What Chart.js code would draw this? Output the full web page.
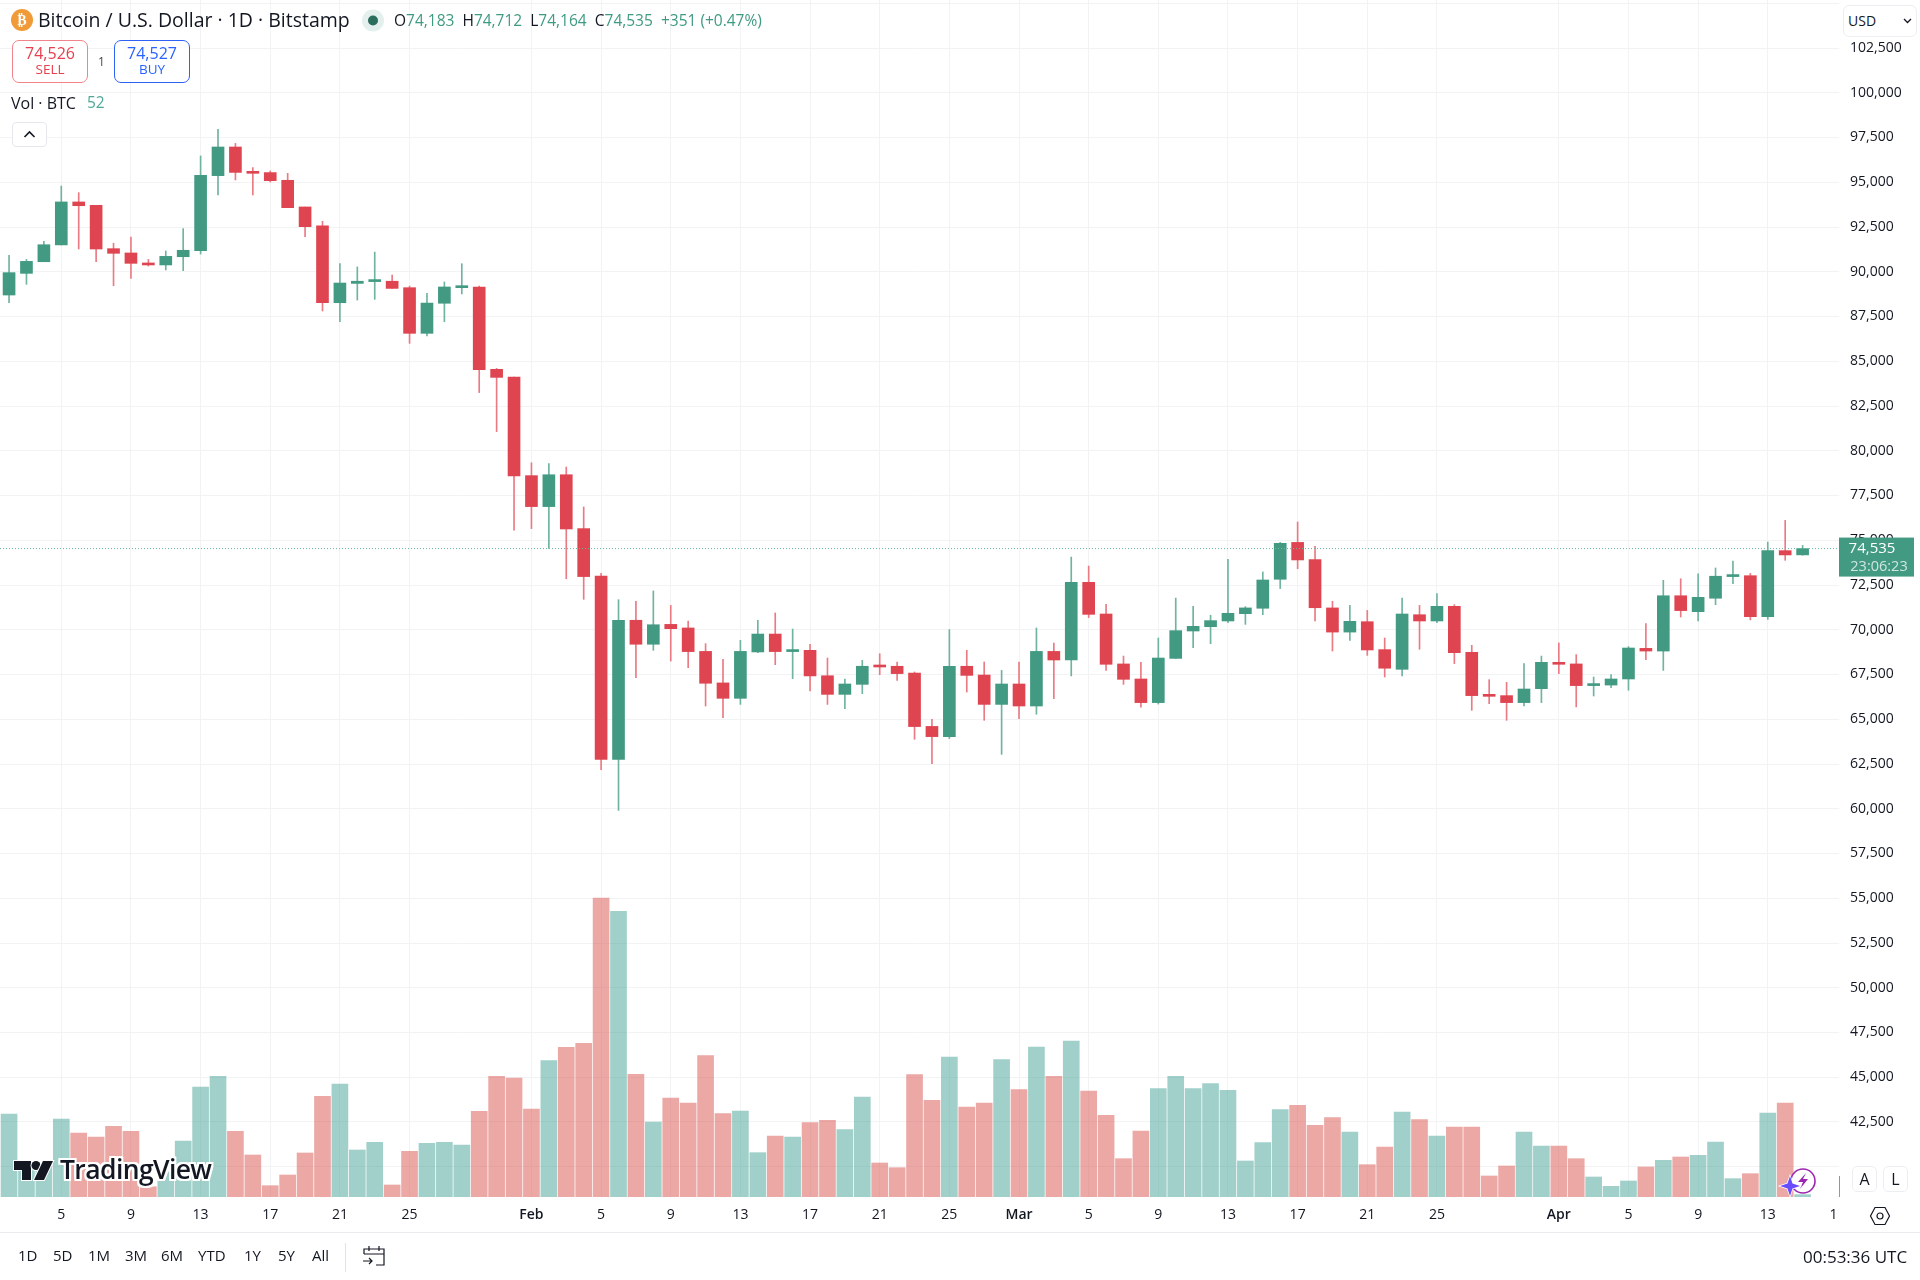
<!DOCTYPE html>
<html>
<head>
<meta charset="utf-8">
<title>BTCUSD</title>
<script src="https://cdn.jsdelivr.net/npm/chart.js@4"></script>
<style>
  html, body { margin: 0; padding: 0; background: #fff; }
  body { width: 1920px; height: 1280px; position: relative; overflow: hidden;
         font-family: "Open Sans", sans-serif; color: #131722; }
  #chart { position: absolute; left: 0; top: 0; }
  .t { position: absolute; white-space: nowrap; line-height: 1; }
  .box { position: absolute; box-sizing: border-box; background: #fff; }
  .up { color: #3f9a82; }
  svg { position: absolute; overflow: visible; }
</style>
</head>
<body>
<canvas id="chart" width="1920" height="1280"></canvas>

<!-- symbol header -->
<svg style="left:11px;top:9px" width="22" height="22"><circle cx="11" cy="11" r="11" fill="#f09a38"/><text x="11" y="16" font-size="14" font-weight="700" fill="#fff" text-anchor="middle" font-family="DejaVu Sans">₿</text></svg>
<div class="t" style="left:38px;top:10px;font-size:19.5px">Bitcoin / U.S. Dollar · 1D · Bitstamp</div>
<svg style="left:362px;top:9px" width="22" height="23"><circle cx="11" cy="11.5" r="11" fill="#e3f0ed"/><circle cx="11" cy="11.5" r="5" fill="#2b6e5d"/></svg>
<div class="t" style="left:394px;top:13px;font-size:15.5px">O<span class="up">74,183</span>&nbsp; H<span class="up">74,712</span>&nbsp; L<span class="up">74,164</span>&nbsp; C<span class="up">74,535</span>&nbsp; <span class="up">+351 (+0.47%)</span></div>

<div class="box" style="left:12px;top:40px;width:76px;height:43px;border:1px solid #f0838c;border-radius:7px"></div>
<div class="t" style="left:12px;width:76px;text-align:center;top:45px;font-size:16px;font-weight:500;color:#e5404e">74,526</div>
<div class="t" style="left:12px;width:76px;text-align:center;top:63px;font-size:13.5px;color:#e5404e">SELL</div>
<div class="t" style="left:98px;top:56px;font-size:12px;color:#434651">1</div>
<div class="box" style="left:114px;top:40px;width:76px;height:43px;border:1px solid #2e62f5;border-radius:7px"></div>
<div class="t" style="left:114px;width:76px;text-align:center;top:45px;font-size:16px;font-weight:500;color:#2962ff">74,527</div>
<div class="t" style="left:114px;width:76px;text-align:center;top:63px;font-size:13.5px;color:#2962ff">BUY</div>

<div class="t" style="left:11px;top:95px;font-size:16px">Vol · BTC</div>
<div class="t" style="left:87px;top:95px;font-size:15.5px;color:#4fa896">52</div>
<div class="box" style="left:12px;top:122px;width:35px;height:25px;border:1px solid #e6e8ee;border-radius:4px"></div>
<svg style="left:12px;top:122px" width="35" height="25"><path d="M12.5 15 L17.5 10 L22.5 15" fill="none" stroke="#131722" stroke-width="1.6"/></svg>

<!-- currency selector -->
<div class="box" style="left:1843px;top:5px;width:74px;height:32px;border:1px solid #eceef2;border-radius:6px"></div>
<div class="t" style="left:1848px;top:14px;font-size:14px">USD</div>
<svg style="left:1903px;top:17px" width="10" height="8"><path d="M1 2 L4.5 5.5 L8 2" fill="none" stroke="#131722" stroke-width="1.3"/></svg>

<!-- logo over the volume pane -->
<svg style="left:14px;top:1161px" width="40" height="20" viewBox="0 0 40 20"><g fill="#131722" stroke="#fff" stroke-width="2" paint-order="stroke"><path d="M0 0H17V19H8V9H0Z"/><circle cx="22" cy="4.5" r="4.5"/><path d="M29 0H39L30 19H20Z"/></g></svg>
<div class="t" style="left:60px;top:1156px;font-size:26.5px;font-weight:600;letter-spacing:-0.6px;color:#131722;text-shadow:-2px 0 #fff,2px 0 #fff,0 -2px #fff,0 2px #fff,-2px -2px #fff,2px 2px #fff,-2px 2px #fff,2px -2px #fff">TradingView</div>

<!-- corner of the time axis -->
<div class="box" style="left:1838px;top:1197px;width:82px;height:34px"></div>
<div class="box" style="left:1839px;top:1176px;width:1px;height:21px;background:#5fb09c"></div>
<div class="box" style="left:0;top:1232px;width:1920px;height:1px;background:#e9ebef"></div>
<div class="box" style="left:1852px;top:1166px;width:25px;height:26px;border:1px solid #eceef2;border-radius:5px"></div>
<div class="t" style="left:1852px;width:25px;text-align:center;top:1171px;font-size:16px">A</div>
<div class="box" style="left:1883px;top:1166px;width:25px;height:26px;border:1px solid #eceef2;border-radius:5px"></div>
<div class="t" style="left:1883px;width:25px;text-align:center;top:1171px;font-size:16px">L</div>
<svg style="left:1870px;top:1206px" width="20" height="20"><path d="M5 1.5H15L19.5 10L15 18.5H5L0.5 10Z" fill="none" stroke="#131722" stroke-width="1.2"/><circle cx="10" cy="10" r="3" fill="none" stroke="#131722" stroke-width="1.2"/></svg>

<!-- assistant badge -->
<svg style="left:1782px;top:1165px" width="40" height="36"><circle cx="21" cy="16" r="12" fill="#fff" stroke="#9c27b0" stroke-width="1.6"/><path d="M24 8 L16 17 H21 L18 24 L26 14 H21 Z" fill="#9c27b0"/><path d="M8 11 L10.5 18.5 L18 21 L10.5 23.5 L8 31 L5.5 23.5 L-2 21 L5.5 18.5 Z" fill="#6a4cff" stroke="#fff" stroke-width="1.5" paint-order="stroke"/></svg>

<!-- bottom toolbar -->
<div class="t" style="left:18px;top:1248px;font-size:15px">1D</div>
<div class="t" style="left:53px;top:1248px;font-size:15px">5D</div>
<div class="t" style="left:88px;top:1248px;font-size:15px">1M</div>
<div class="t" style="left:125px;top:1248px;font-size:15px">3M</div>
<div class="t" style="left:161px;top:1248px;font-size:15px">6M</div>
<div class="t" style="left:198px;top:1248px;font-size:15px">YTD</div>
<div class="t" style="left:244px;top:1248px;font-size:15px">1Y</div>
<div class="t" style="left:278px;top:1248px;font-size:15px">5Y</div>
<div class="t" style="left:312px;top:1248px;font-size:15px">All</div>
<div class="box" style="left:345px;top:1243px;width:1px;height:29px;background:#e0e3eb"></div>
<svg style="left:362px;top:1245px" width="24" height="22"><path d="M2 9V4H22V20H14M2 9H22M7 1V6M17 1V6M1 16H10M7 13L10 16L7 19" fill="none" stroke="#131722" stroke-width="1.2"/></svg>
<div class="t" style="left:1803px;top:1248px;font-size:17px">00:53:36 UTC</div>

<script>
// Daily BTC/USD, 2 Jan to 15 Apr
const opens = [
  88700, 89910, 90560, 91500, 93900, 93710, 91290, 91050, 90490, 90380, 90840, 91180, 95370,
  96970, 95570, 95540, 95110, 93620, 92560, 88270, 89350, 89450, 89470, 89110, 86560, 88240,
  89110, 89150, 84550, 84120, 78610, 76880, 78660, 75650, 73000, 62760, 70530, 69190, 70300,
  70100, 68790, 67030, 66170, 68760, 69760, 68780, 68850, 67430, 66390, 66950, 67970, 67960,
  67580, 64600, 64030, 67960, 67470, 65830, 66970, 65740, 68790, 68310, 72650, 70880, 68090,
  67250, 65930, 68400, 69930, 70170, 70490, 70900, 71200, 72820, 74880, 73920, 71220, 69870,
  70450, 68890, 67790, 70840, 70490, 71310, 68740, 66340, 66320, 65930, 66710, 68180, 68090,
  66880, 66910, 67250, 68960, 68810, 71900, 71010, 71760, 72970, 73020, 70730, 74420, 74183
];
const highs = [
  90920, 90690, 91700, 94790, 94420, 93710, 91590, 91940, 90690, 91160, 92410, 96470, 97960,
  97170, 95820, 95630, 95500, 93620, 92820, 90450, 90270, 91100, 89820, 89200, 88790, 89430,
  90450, 89200, 84600, 84120, 79330, 79280, 79090, 76860, 73150, 71680, 71590, 72170, 71360,
  70490, 69220, 68350, 69410, 70530, 70940, 70040, 69190, 68420, 67250, 68290, 68660, 68200,
  67640, 65000, 70010, 68850, 68200, 67730, 68200, 70100, 69260, 74060, 73560, 71420, 68530,
  68180, 69540, 71770, 71310, 70810, 73930, 71290, 73230, 74880, 76020, 74660, 71590, 71360,
  71080, 69540, 71770, 71360, 72020, 71400, 69130, 67210, 67060, 68110, 68530, 69260, 68610,
  67360, 67490, 69060, 70340, 72760, 72850, 73130, 73450, 73840, 73150, 74900, 76110, 74712
];
const lows = [
  88270, 89300, 90560, 91500, 91270, 90560, 89220, 89630, 90320, 90100, 90060, 90990, 94290,
  95130, 94290, 95010, 93580, 91960, 87810, 87210, 88420, 88460, 89070, 86000, 86410, 87210,
  88760, 83250, 81070, 75570, 75650, 74550, 72850, 71700, 62180, 59910, 67320, 68850, 68250,
  67880, 65740, 65090, 65830, 68720, 68050, 67270, 66580, 65830, 65590, 66430, 67490, 67170,
  63880, 62520, 63920, 66520, 64940, 63040, 65030, 65280, 66150, 67420, 70680, 67730, 66950,
  65670, 65850, 68390, 69000, 69220, 70400, 70300, 70840, 72300, 73410, 70490, 68810, 69410,
  68570, 67360, 67420, 68910, 70400, 68110, 65500, 65870, 64940, 65740, 65930, 67550, 65690,
  66300, 66770, 66620, 68330, 67730, 70710, 70490, 71400, 72580, 70550, 70580, 73880, 74164
];
const closes = [
  89950, 90580, 91510, 93900, 93690, 91270, 91030, 90470, 90380, 90860, 91200, 95390, 96970,
  95550, 95500, 95090, 93580, 92520, 88270, 89370, 89470, 89480, 89070, 86560, 88250, 89150,
  89150, 84530, 84100, 78590, 76880, 78660, 75630, 72970, 62760, 70530, 69190, 70280, 70060,
  68780, 67010, 66170, 68790, 69760, 68780, 68850, 67420, 66390, 66970, 67960, 67920, 67550,
  64590, 64030, 67960, 67450, 65830, 66970, 65740, 68790, 68310, 72650, 70860, 68070, 67230,
  65930, 68420, 69950, 70190, 70510, 70920, 71220, 72780, 74830, 73900, 71230, 69870, 70470,
  68870, 67850, 70880, 70490, 71310, 68720, 66320, 66280, 65930, 66690, 68180, 68070, 66880,
  66930, 67250, 68980, 68810, 71900, 71070, 71810, 72990, 73080, 70730, 74420, 74180, 74535
];
const volumes = [
  1826, 660, 704, 1716, 1408, 1320, 1555, 1445, 227, 550, 1232, 2420, 2655,
  1445, 924, 249, 484, 968, 2215, 2486, 1034, 1203, 264, 1005, 1181, 1203,
  1144, 1885, 2655, 2618, 1936, 2999, 3293, 3381, 6578, 6285, 2699, 1650, 2178,
  2068, 3109, 1833, 1892, 975, 1342, 1320, 1635, 1687, 1481, 2200, 748, 645,
  2691, 2127, 3080, 1980, 2068, 3021, 2361, 3300, 2655, 3432, 2332, 1797, 843,
  1452, 2383, 2655, 2383, 2493, 2347, 792, 1195, 1921, 2017, 1577, 1745, 1430,
  711, 1100, 1870, 1701, 1342, 1540, 1540, 462, 682, 1430, 1122, 1122, 843,
  440, 235, 352, 660, 807, 880, 917, 1210, 403, 513, 1848, 2068, 52
];

// x axis labels and the bar index they sit on
const dateTicks = [3, 7, 11, 15, 19, 23, 30, 34, 38, 42, 46, 50, 54, 58, 62, 66, 70, 74, 78, 82, 89, 93, 97, 101, 105];
const dateLabels = ["5", "9", "13", "17", "21", "25", "Feb", "5", "9", "13", "17", "21", "25", "Mar", "5", "9", "13", "17", "21", "25", "Apr", "5", "9", "13", "17"];
const monthLabels = ["Feb", "Mar", "Apr"];

const priceTicks = [
  42500, 45000, 47500, 50000, 52500, 55000, 57500, 60000, 62500, 65000, 67500, 70000, 72500,
  75000, 77500, 80000, 82500, 85000, 87500, 90000, 92500, 95000, 97500, 100000, 102500
];
const lastPrice = closes[closes.length - 1];
const countdown = "23:06:23";

const UP = "#429a82", DOWN = "#df4550";
const UP_WICK = "#6fb3a0", DOWN_WICK = "#ea7a83";
const VOL_UP = "rgba(66,161,147,0.5)", VOL_DOWN = "rgba(215,81,76,0.5)";
const GRID = "#f2f3f5";
const FONT = '"Open Sans", sans-serif';

const isUp = closes.map((c, i) => c >= opens[i]);

// tag on the price axis, drawn last so it covers the 75,000 label
const priceTag = {
  id: "priceTag",
  afterDraw(chart) {
    const { ctx, chartArea } = chart;
    const y = chart.scales.price.getPixelForValue(lastPrice);
    const left = chartArea.right;
    ctx.save();
    ctx.fillStyle = UP;
    ctx.fillRect(left, y - 11, 75, 39);
    ctx.textAlign = "center";
    ctx.textBaseline = "middle";
    ctx.font = "500 15px " + FONT;
    ctx.fillStyle = "#fff";
    ctx.fillText(lastPrice.toLocaleString("en-US"), left + 33, y);
    ctx.font = "14.5px " + FONT;
    ctx.fillStyle = "#cfe6df";
    ctx.fillText(countdown, left + 40, y + 18);
    ctx.restore();
  }
};

new Chart(document.getElementById("chart"), {
  type: "bar",
  data: {
    datasets: [
      {
        label: "Last price",
        type: "line",
        data: [{ x: -0.52, y: lastPrice }, { x: 105.09, y: lastPrice }],
        yAxisID: "price",
        borderColor: "#6db8a4",
        borderWidth: 1,
        borderDash: [1, 2],
        pointRadius: 0,
        order: 1
      },
      {
        label: "Body",
        data: opens.map((o, i) => ({ x: i, y: [o, closes[i]] })),
        yAxisID: "price",
        backgroundColor: isUp.map(u => (u ? UP : DOWN)),
        barThickness: 12,
        minBarLength: 2,
        grouped: false,
        order: 2
      },
      {
        label: "Wick",
        data: lows.map((l, i) => ({ x: i, y: [l, highs[i]] })),
        yAxisID: "price",
        backgroundColor: isUp.map(u => (u ? UP_WICK : DOWN_WICK)),
        barThickness: 1,
        grouped: false,
        order: 3
      },
      {
        label: "Vol",
        data: volumes.map((v, i) => ({ x: i, y: v })),
        yAxisID: "vol",
        backgroundColor: isUp.map(u => (u ? VOL_UP : VOL_DOWN)),
        barThickness: 16,
        grouped: false,
        order: 4
      }
    ]
  },
  options: {
    responsive: false,
    animation: false,
    events: [],
    layout: { padding: { left: 0, right: 0, top: 0, bottom: 48 } },
    plugins: { legend: { display: false }, tooltip: { enabled: false } },
    scales: {
      x: {
        type: "linear",
        offset: false,
        min: -0.52,
        max: 105.09,
        afterBuildTicks(scale) {
          scale.ticks = dateTicks.map(v => ({ value: v }));
        },
        afterFit(scale) {
          scale.height = 35;
          scale.paddingLeft = 0;
          scale.paddingRight = 0;
        },
        border: { display: false },
        grid: {
          offset: false,
          drawTicks: false,
          color: ctx => (ctx.tick && ctx.tick.value === 105 ? "transparent" : GRID)
        },
        ticks: {
          autoSkip: false,
          maxRotation: 0,
          padding: 10,
          color: "#131722",
          font: ctx => ({
            family: FONT,
            size: 14,
            weight: monthLabels.includes(ctx.tick && ctx.tick.label) ? "600" : "400"
          }),
          callback: (v, i) => dateLabels[i]
        }
      },
      price: {
        position: "right",
        min: 38310,
        max: 105182,
        afterBuildTicks(scale) {
          scale.ticks = [40000, ...priceTicks, 105000].map(v => ({ value: v }));
        },
        afterFit(scale) {
          scale.width = 81;
          scale.paddingTop = 0;
          scale.paddingBottom = 0;
        },
        border: { display: false },
        grid: { drawTicks: false, color: GRID },
        ticks: {
          padding: 11,
          color: "#131722",
          font: { family: FONT, size: 14 },
          callback: v => (priceTicks.includes(v) ? v.toLocaleString("en-US") : "")
        }
      },
      vol: {
        display: false,
        min: 0,
        max: 26334
      }
    }
  },
  plugins: [priceTag]
});
</script>
</body>
</html>
